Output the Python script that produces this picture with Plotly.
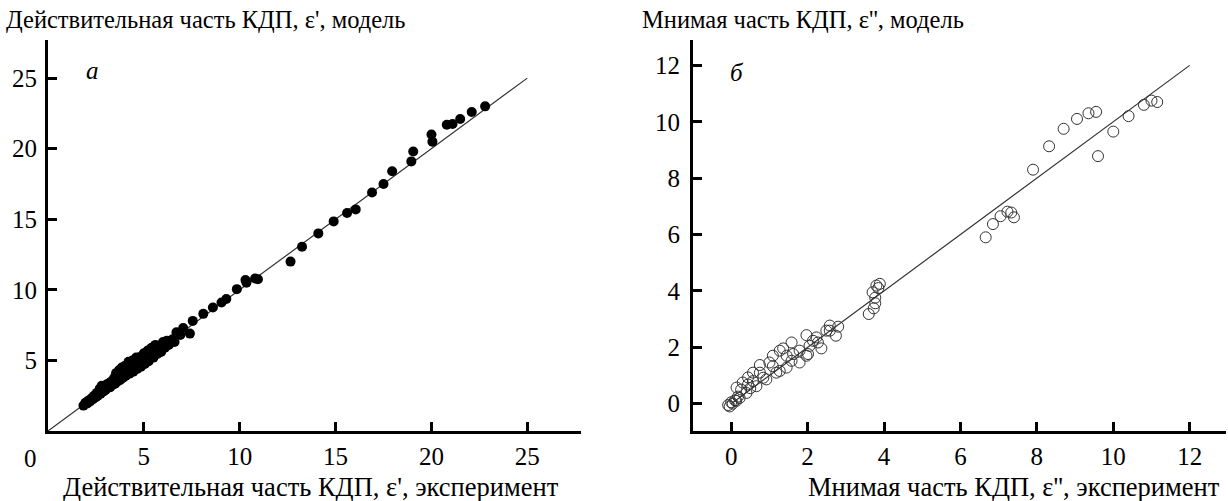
import plotly.graph_objects as go

# ---- data: panel a (real part) ----
eps1_exp = [1.85, 1.95, 2.05, 2.1, 2.2, 2.25, 2.35, 2.4, 2.5, 2.55, 2.6, 2.7, 2.75, 2.8, 2.9, 2.95,
            3.0, 3.05, 3.1, 3.2, 3.25, 3.3, 3.4, 3.45, 3.5, 3.55, 3.6, 3.7, 3.75, 3.8, 3.85, 3.9,
            4.0, 4.05, 4.1, 4.2, 4.25, 4.3, 4.4, 4.45, 4.5, 4.6, 4.65, 4.7, 4.8, 4.85, 4.9,
            5.0, 5.05, 5.1, 5.2, 5.25, 5.3, 5.4, 5.5, 5.55, 5.6, 5.7, 5.8, 5.9,
            6.0, 6.1, 6.2, 6.3, 6.5, 6.6, 6.7, 6.9, 7.05, 7.4, 7.55, 8.1, 8.6, 9.05, 9.3, 9.85,
            10.35, 10.3, 10.8, 10.95, 12.65, 13.25, 14.1, 14.9, 15.6, 16.05, 16.9, 17.5, 17.95,
            18.95, 19.05, 20.0, 20.05, 20.8, 21.1, 21.5, 22.1, 22.8]
eps1_mod = [1.8, 2.0, 1.95, 2.15, 2.1, 2.3, 2.25, 2.5, 2.4, 2.7, 2.5, 3.0, 2.65, 3.2, 2.8, 3.1,
            2.9, 3.3, 3.05, 3.4, 3.1, 3.5, 3.3, 3.75, 3.35, 4.1, 3.5, 4.3, 3.6, 4.0, 4.5, 3.75,
            4.6, 3.9, 4.3, 4.9, 4.05, 4.6, 5.0, 4.2, 4.7, 5.2, 4.4, 4.8, 5.25, 4.55, 5.0,
            5.5, 4.75, 5.2, 5.7, 4.95, 5.4, 5.9, 5.2, 5.7, 6.1, 5.45, 6.0, 5.6,
            6.3, 5.9, 6.4, 6.1, 6.5, 6.3, 7.0, 6.8, 7.3, 6.9, 7.8, 8.3, 8.75, 9.1, 9.35, 10.05,
            10.5, 10.7, 10.8, 10.75, 12.0, 13.05, 14.0, 14.85, 15.45, 15.7, 16.9, 17.5, 18.4,
            19.1, 19.8, 21.0, 20.5, 21.7, 21.75, 22.1, 22.6, 23.0]

# ---- data: panel б (imaginary part) ----
eps2_exp = [-0.08, -0.04, 0.0, 0.04, 0.1, 0.13, 0.18, 0.22, 0.14, 0.26, 0.3, 0.4, 0.44, 0.44, 0.5,
            0.57, 0.57, 0.66, 0.75, 0.75, 0.84, 0.92, 1.0, 1.09, 1.09, 1.18, 1.27, 1.27, 1.36,
            1.45, 1.45, 1.58, 1.58, 1.62, 1.79, 1.79, 1.97, 1.97, 2.01, 2.05, 2.14, 2.23, 2.27,
            2.36, 2.49, 2.58, 2.58, 2.74, 2.8,
            3.6, 3.73, 3.77, 3.7, 3.77, 3.8, 3.89, 3.85,
            6.66, 6.85, 7.05, 7.23, 7.33, 7.4,
            7.9, 8.32, 8.7, 9.05, 9.35, 9.55, 9.6, 10.0, 10.4, 10.8, 11.0, 11.15]
eps2_mod = [-0.05, -0.1, 0.05, 0.0, 0.12, 0.1, 0.25, 0.2, 0.57, 0.5, 0.75, 0.38, 0.93, 0.68, 0.55,
            1.1, 0.8, 0.62, 1.37, 1.1, 0.92, 0.86, 1.46, 1.7, 1.33, 1.1, 1.88, 1.16, 1.96,
            1.7, 1.28, 2.17, 1.52, 1.76, 1.46, 1.88, 2.43, 1.7, 1.76, 2.05, 2.23, 2.35, 2.17,
            1.96, 2.59, 2.77, 2.59, 2.41, 2.73,
            3.18, 3.38, 3.56, 3.95, 3.76, 4.19, 4.25, 4.1,
            5.9, 6.37, 6.65, 6.81, 6.78, 6.61,
            8.3, 9.13, 9.75, 10.1, 10.3, 10.35, 8.78, 9.65, 10.2, 10.6, 10.75, 10.7]

line_a = [0, 25]
line_b = [0, 12]

titles_top = ["Действительная часть КДП, ε', модель", "Мнимая часть КДП, ε'', модель"]
titles_bottom = ["Действительная часть КДП, ε', эксперимент", "Мнимая часть КДП, ε'', эксперимент"]
panel_letters = ["a", "б"]
ticks_a = [5, 10, 15, 20, 25]
ticks_b = [0, 2, 4, 6, 8, 10, 12]

W, H = 1228, 501
FONT = "Liberation Serif"
TICK_SIZE = 25
TEXT_SIZE = 24.5
XTITLE_SIZE = 26.5

fig = go.Figure()
fig.add_trace(go.Scatter(x=line_a, y=line_a, mode="lines", line=dict(color="#333", width=1.2),
                         xaxis="x", yaxis="y", hoverinfo="skip"))
fig.add_trace(go.Scatter(x=eps1_exp, y=eps1_mod, mode="markers",
                         marker=dict(color="black", size=10, line=dict(width=0)),
                         xaxis="x", yaxis="y"))
fig.add_trace(go.Scatter(x=line_b, y=line_b, mode="lines", line=dict(color="#333", width=1.2),
                         xaxis="x2", yaxis="y2", hoverinfo="skip"))
fig.add_trace(go.Scatter(x=eps2_exp, y=eps2_mod, mode="markers",
                         marker=dict(symbol="circle-open", color="#333", size=11, line=dict(width=1)),
                         xaxis="x2", yaxis="y2"))

ax_common = dict(showline=True, linewidth=3, linecolor="black", ticks="inside", ticklen=9,
                 tickwidth=2.5, tickcolor="black", showgrid=False, zeroline=False,
                 tickfont=dict(family=FONT, size=TICK_SIZE, color="black"), mirror=False)

ydom = [(H - 431) / H, (H - 40) / H]
fig.update_layout(
    width=W, height=H, margin=dict(l=0, r=0, t=0, b=0),
    font=dict(family=FONT, color="black"),
    paper_bgcolor="white", plot_bgcolor="white", showlegend=False,
    xaxis=dict(ax_common, domain=[48 / W, 581 / W], range=[0, 27.8], tickvals=ticks_a,
               anchor="y", ticklabelstandoff=1),
    yaxis=dict(ax_common, domain=ydom, range=[0, 27.7], tickvals=ticks_a, anchor="x",
               ticklabelstandoff=3),
    xaxis2=dict(ax_common, domain=[693 / W, 1226 / W], range=[-1, 12.95], tickvals=ticks_b,
                anchor="y2", ticklabelstandoff=1),
    yaxis2=dict(ax_common, domain=ydom, range=[-0.97, 12.9], tickvals=ticks_b, anchor="x2",
                ticklabelstandoff=5),
)

ann_font = dict(family=FONT, size=TEXT_SIZE, color="black")
xt_font = dict(family=FONT, size=XTITLE_SIZE, color="black")
fig.add_annotation(text=titles_top[0], x=4 / W, y=1 - 20 / H, xref="paper", yref="paper",
                   xanchor="left", yanchor="middle", showarrow=False, font=ann_font)
fig.add_annotation(text=titles_top[1], x=640 / W, y=1 - 20 / H, xref="paper", yref="paper",
                   xanchor="left", yanchor="middle", showarrow=False, font=ann_font)
fig.add_annotation(text=titles_bottom[0], x=561 / W, y=1 - 487 / H, xref="paper", yref="paper",
                   xanchor="right", yanchor="middle", showarrow=False, font=xt_font)
fig.add_annotation(text=titles_bottom[1], x=1222 / W, y=1 - 487 / H, xref="paper", yref="paper",
                   xanchor="right", yanchor="middle", showarrow=False, font=xt_font)
fig.add_annotation(text="0", x=30 / W, y=1 - 458 / H, xref="paper", yref="paper",
                   xanchor="center", yanchor="middle", showarrow=False,
                   font=dict(family=FONT, size=TICK_SIZE, color="black"))
fig.add_annotation(text="<i>" + panel_letters[0] + "</i>", x=92 / W, y=1 - 70 / H, xref="paper",
                   yref="paper", xanchor="center", yanchor="middle", showarrow=False,
                   font=dict(family=FONT, size=TICK_SIZE, color="black"))
fig.add_annotation(text="<i>" + panel_letters[1] + "</i>", x=737 / W, y=1 - 72 / H, xref="paper",
                   yref="paper", xanchor="center", yanchor="middle", showarrow=False,
                   font=dict(family=FONT, size=TICK_SIZE, color="black"))

fig.write_html("out.html")
